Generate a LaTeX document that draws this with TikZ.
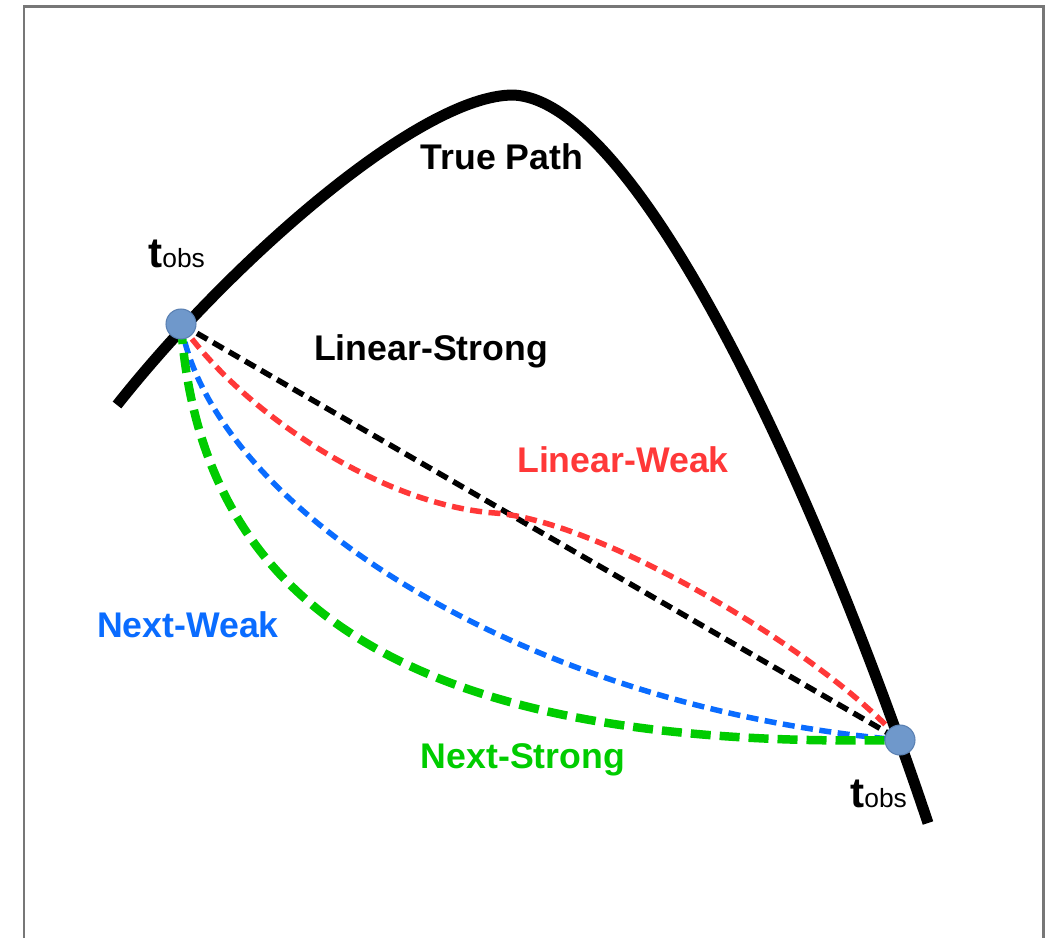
\documentclass[tikz,border=0pt]{standalone}
\usepackage{fontspec}
\setmainfont{Liberation Sans}
\usepackage{xcolor}
\usepackage{tikz}
\usetikzlibrary{calc}

\definecolor{obsfill}{HTML}{6F98CB}
\definecolor{obsedge}{HTML}{5A80B2}
\definecolor{weakred}{HTML}{FF3838}
\definecolor{weakblue}{HTML}{0A6CFF}
\definecolor{strgreen}{HTML}{00CC00}
\definecolor{framegray}{HTML}{777777}

\begin{document}
\begin{tikzpicture}[x=0.02cm,y=-0.02cm,
	truepath/.style={line width=0.22cm,black},
	guess/.style={line width=0.11cm,dash pattern=on 0.24cm off 0.13cm},
	strong/.style={line width=0.17cm,dash pattern=on 0.4cm off 0.18cm},
	obs/.style={circle,fill=obsfill,draw=obsedge,line width=0.6pt,minimum size=0.6cm,inner sep=0pt},
	lbl/.style={font=\bfseries\fontsize{20.3}{24}\selectfont,inner sep=0pt,anchor=base},
	tlbl/.style={inner sep=0pt,anchor=base west}]
			\useasboundingbox (0,0) rectangle (1051,938);
			\draw[framegray,line width=0.06cm] (24,938)--(24,6)--(1043,6)--(1043,938);
			
			\coordinate (pA) at (181,324);
			\coordinate (pB) at (900,740);
			
			% true path
			\draw[truepath] (117,405) .. controls (230,262) and (420,95) .. (513,95)
				.. controls (640,100) and (820,500) .. (928,823);
			
			% four guesses
			\draw[guess,black] (pA)--(pB);
			\draw[guess,weakred] (pA) .. controls (240,410) and (380,505) .. (495,513)
				.. controls (600,521) and (820,650) .. (pB);
			\draw[guess,weakblue] (pA) .. controls (210,500) and (510,705) .. (pB);
			\draw[strong,strgreen] (pA) .. controls (200,600) and (400,750) .. (pB);
			
			\node[obs] (obsA) at (pA) {};
			\node[obs] (obsB) at (pB) {};
			
			\node[tlbl] (tA) at (148,267) {\fontsize{24}{28}\selectfont\bfseries t\fontsize{15}{18}\selectfont\mdseries obs};
			\node[tlbl] (tB) at (850,807) {\fontsize{24}{28}\selectfont\bfseries t\fontsize{15}{18}\selectfont\mdseries obs};
			
			\node[lbl] (truelbl) at (502,169) {True Path};
			\node[lbl] (lslbl) at (431,360) {Linear-Strong};
			\node[lbl,weakred] (lwlbl) at (623,472) {Linear-Weak};
			\node[lbl,weakblue] (nwlbl) at (188,637) {Next-Weak};
			\node[lbl,strgreen] (nslbl) at (523,768) {Next-Strong};
		\end{tikzpicture}
\end{document}
